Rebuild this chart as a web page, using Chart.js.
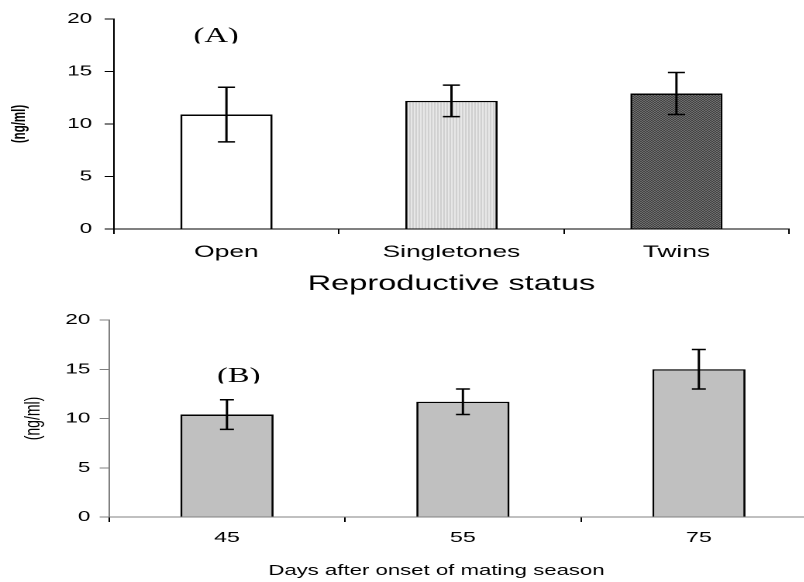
<!DOCTYPE html>
<html>
<head>
<meta charset="utf-8">
<script src="https://cdn.jsdelivr.net/npm/chart.js@4/dist/chart.umd.min.js"></script>
<style>
  html, body { margin: 0; padding: 0; background: #fff; overflow: hidden; width: 804px; height: 582px; }
  /* the original figure is stretched sideways, so each panel is drawn narrow and widened */
  .panel { position: absolute; left: 0; transform: scaleX(1.55); transform-origin: 0 0; }
  #wrapA { top: 0; width: 519px; height: 300px; }
  #wrapB { top: 300px; width: 530px; height: 282px; }
</style>
</head>
<body>
<div class="panel" id="wrapA"><canvas id="chartA" width="519" height="300"></canvas></div>
<div class="panel" id="wrapB"><canvas id="chartB" width="530" height="282"></canvas></div>
<script>
// panel A: by reproductive status
const statusLabels = ['Open', 'Singletones', 'Twins'];
const statusMeans = [10.9, 12.2, 12.9];
const statusErrors = [2.6, 1.5, 2.0];

// panel B: days after onset of mating season
const dayLabels = ['45', '55', '75'];
const dayMeans = [10.4, 11.7, 15.0];
const dayErrors = [1.5, 1.3, 2.0];

const yMin = 0, yMax = 20, yStep = 5;

const SANS = '"Liberation Sans", Arial, sans-serif';
const SERIF = '"Liberation Serif", "Times New Roman", serif';

function makePattern(ctx, cells) {
  const c = document.createElement('canvas');
  c.width = cells[0].length; c.height = cells.length;
  const g = c.getContext('2d');
  cells.forEach((row, y) => row.forEach((col, x) => { g.fillStyle = col; g.fillRect(x, y, 1, 1); }));
  return ctx.createPattern(c, 'repeat');
}

// error bars drawn from the bar elements and the y scale
const errorBars = {
  id: 'errorBars',
  afterDatasetsDraw(chart, args, opts) {
    const ctx = chart.ctx;
    const y = chart.scales.y;
    const meta = chart.getDatasetMeta(0);
    const vals = chart.data.datasets[0].data;
    ctx.save();
    ctx.strokeStyle = '#000';
    ctx.lineWidth = opts.width;
    meta.data.forEach((bar, i) => {
      const hi = y.getPixelForValue(vals[i] + opts.errors[i]);
      const lo = y.getPixelForValue(vals[i] - opts.errors[i]);
      ctx.beginPath();
      ctx.moveTo(bar.x, hi); ctx.lineTo(bar.x, lo);
      ctx.moveTo(bar.x - opts.cap, hi); ctx.lineTo(bar.x + opts.cap, hi);
      ctx.moveTo(bar.x - opts.cap, lo); ctx.lineTo(bar.x + opts.cap, lo);
      ctx.stroke();
    });
    ctx.restore();
  }
};

// "(A)" / "(B)" tags, cut off at the baseline like in the source image,
// plus an optional free-placed axis caption
const panelText = {
  id: 'panelText',
  afterDraw(chart, args, opts) {
    const ctx = chart.ctx;
    ctx.save();
    ctx.fillStyle = '#000';
    ctx.textAlign = 'center';
    if (opts.caption) {
      ctx.font = opts.caption.size + 'px ' + SANS;
      ctx.textBaseline = 'middle';
      ctx.fillText(opts.caption.text, opts.caption.x, opts.caption.y);
    }
    ctx.beginPath();
    ctx.rect(0, 0, chart.width, opts.clipY);
    ctx.clip();
    ctx.font = '21px ' + SERIF;
    ctx.textBaseline = 'alphabetic';
    ctx.fillText(opts.text, opts.x, opts.y);
    ctx.restore();
  }
};

function buildChart(canvasId, cfg) {
  return new Chart(document.getElementById(canvasId), {
    type: 'bar',
    data: {
      labels: cfg.labels,
      datasets: [{
        data: cfg.values,
        backgroundColor: cfg.fills,
        borderColor: '#000',
        borderWidth: 1.4,
        barPercentage: cfg.barPct,
        categoryPercentage: 1
      }]
    },
    options: {
      responsive: false,
      animation: false,
      devicePixelRatio: 2,
      layout: { padding: { top: cfg.top, right: cfg.right, left: 0, bottom: 0 } },
      plugins: {
        legend: { display: false },
        tooltip: { enabled: false },
        errorBars: { errors: cfg.errors, cap: cfg.cap, width: 1.5 },
        panelText: cfg.tag
      },
      scales: {
        x: {
          type: 'category',
          offset: true,
          grid: { drawOnChartArea: false, offset: true, tickLength: 5, color: '#000', lineWidth: 1 },
          border: { color: cfg.axisColor, width: 1 },
          ticks: { font: { family: SANS, size: cfg.xTickSize }, color: '#000', padding: cfg.xTickPad, maxRotation: 0, autoSkip: false },
          title: { display: !!cfg.xTitle, text: cfg.xTitle || '', font: { family: SANS, size: cfg.xTitleSize }, color: '#000', padding: { top: 0, bottom: cfg.xTitlePad } },
          afterFit(s) { s.height = cfg.xHeight; }
        },
        y: {
          min: yMin, max: yMax,
          grid: { drawOnChartArea: false, tickLength: 6, color: cfg.axisColor },
          border: { color: cfg.axisColor, width: 1 },
          ticks: { stepSize: yStep, font: { family: SANS, size: 14.5 }, color: '#000', padding: cfg.yTickPad },
          title: { display: true, text: '(ng/ml)', font: { family: SANS, size: cfg.yTitleSize, weight: cfg.yTitleWeight }, color: '#000', padding: { top: cfg.yTitlePad, bottom: 0 } },
          afterFit(s) { s.width = cfg.yWidth; }
        }
      }
    },
    plugins: [errorBars, panelText]
  });
}

const ctxA = document.getElementById('chartA').getContext('2d');
const stripes = makePattern(ctxA, [['#c4c4c4', '#f2f2f2']]);
const checks = makePattern(ctxA, [['#000', '#b0b0b0'], ['#b0b0b0', '#000']]);

buildChart('chartA', {
  labels: statusLabels, values: statusMeans, errors: statusErrors,
  fills: ['#ffffff', stripes, checks],
  barPct: 0.41, cap: 5.5,
  top: 19, right: 10,
  axisColor: '#000',
  xTickSize: 17, xTickPad: 8,
  xTitle: 'Reproductive status', xTitleSize: 21, xTitlePad: 3, xHeight: 71,
  yTickPad: 8, yTitleSize: 11.5, yTitleWeight: 'bold', yTitlePad: 6, yWidth: 73.5,
  tag: { text: '(A)', x: 139.4, y: 42, clipY: 43.5 }
});

buildChart('chartB', {
  labels: dayLabels, values: dayMeans, errors: dayErrors,
  fills: ['#c0c0c0', '#c0c0c0', '#c0c0c0'],
  barPct: 0.395, cap: 4.5,
  top: 20, right: 3,
  axisColor: '#808080',
  xTickSize: 15, xTickPad: 7,
  xTitle: null, xHeight: 65,
  yTickPad: 6, yTitleSize: 14, yTitleWeight: 'normal', yTitlePad: 13, yWidth: 70.3,
  tag: {
    text: '(B)', x: 154, y: 82, clipY: 83.5,
    caption: { text: 'Days after onset of mating season', size: 14.3, x: 281.6, y: 271 }
  }
});
</script>
</body>
</html>
